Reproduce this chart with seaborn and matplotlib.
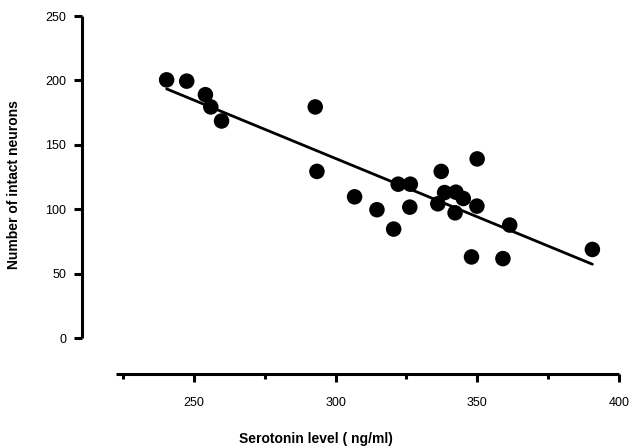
import matplotlib
matplotlib.use("Agg")
import matplotlib.pyplot as plt
import seaborn as sns
import numpy as np
import pandas as pd
from matplotlib.ticker import FixedLocator

serotonin = [240.3, 247.4, 254.0, 255.9, 259.7, 292.8, 293.4, 306.7, 314.6, 320.5,
             322.1, 326.4, 326.2, 337.3, 338.5, 336.1, 342.5, 345.1, 342.2, 350.0,
             349.9, 361.5, 348.0, 359.1, 390.7]
neurons = [200.5, 199.5, 189.0, 179.5, 168.6, 179.5, 129.5, 109.8, 99.8, 84.8,
           119.6, 119.6, 101.8, 129.5, 113.1, 104.4, 113.4, 108.5, 97.4, 139.2,
           102.6, 87.9, 63.2, 61.9, 69.0]
x_ticks = [250, 300, 350, 400]
x_minor = [225, 275, 325, 375]
y_ticks = [0, 50, 100, 150, 200, 250]

df = pd.DataFrame({"Serotonin": serotonin, "Neurons": neurons})

sns.set_style("ticks", {"axes.edgecolor": "black", "text.color": "black",
                        "xtick.color": "black", "ytick.color": "black",
                        "axes.labelcolor": "black"})
plt.rcParams["font.family"] = ["Liberation Sans", "DejaVu Sans"]

fig = plt.figure(figsize=(6.33, 4.48), dpi=100)
W, H = 633, 448
L, R, T, B = 81.7, 618.7, 16.0, 374.3
ax = fig.add_axes([L / W, (H - B) / H, (R - L) / W, (B - T) / H])

sns.regplot(data=df, x="Serotonin", y="Neurons", ci=None, ax=ax,
            scatter_kws=dict(s=125, color="black", edgecolor="none", alpha=1, zorder=3),
            line_kws=dict(color="black", lw=2.0))

ax.set_xlim(210.3, 400)
ax.set_ylim(-27.8, 250)
ax.spines["top"].set_visible(False)
ax.spines["right"].set_visible(False)
for s in ["left", "bottom"]:
    ax.spines[s].set_linewidth(2.2)
    ax.spines[s].set_capstyle("butt")
    ax.spines[s].set_color("black")
ax.spines["left"].set_bounds(0, 250)
ax.spines["bottom"].set_bounds(222.4, 400)

ax.xaxis.set_major_locator(FixedLocator(x_ticks))
ax.xaxis.set_minor_locator(FixedLocator(x_minor))
ax.yaxis.set_major_locator(FixedLocator(y_ticks))
ax.tick_params(axis="x", which="major", length=6, width=2.2, pad=10, labelsize=9,
               color="black", labelcolor="black")
ax.tick_params(axis="x", which="minor", length=3.5, width=2.2, color="black")
ax.tick_params(axis="y", which="major", length=6, width=2.2, pad=5, labelsize=9,
               color="black", labelcolor="black")

ax.set_xlabel("Serotonin level ( ng/ml)", fontsize=10, fontweight="bold", color="black")
ax.set_ylabel("Number of intact neurons", fontsize=10, fontweight="bold", color="black")
ax.xaxis.set_label_coords((316 - L) / (R - L), -(432 - B) / (B - T))
ax.yaxis.set_label_coords(-(L - 21) / (R - L), (B - 185) / (B - T))

fig.savefig("out.png", dpi=100)
